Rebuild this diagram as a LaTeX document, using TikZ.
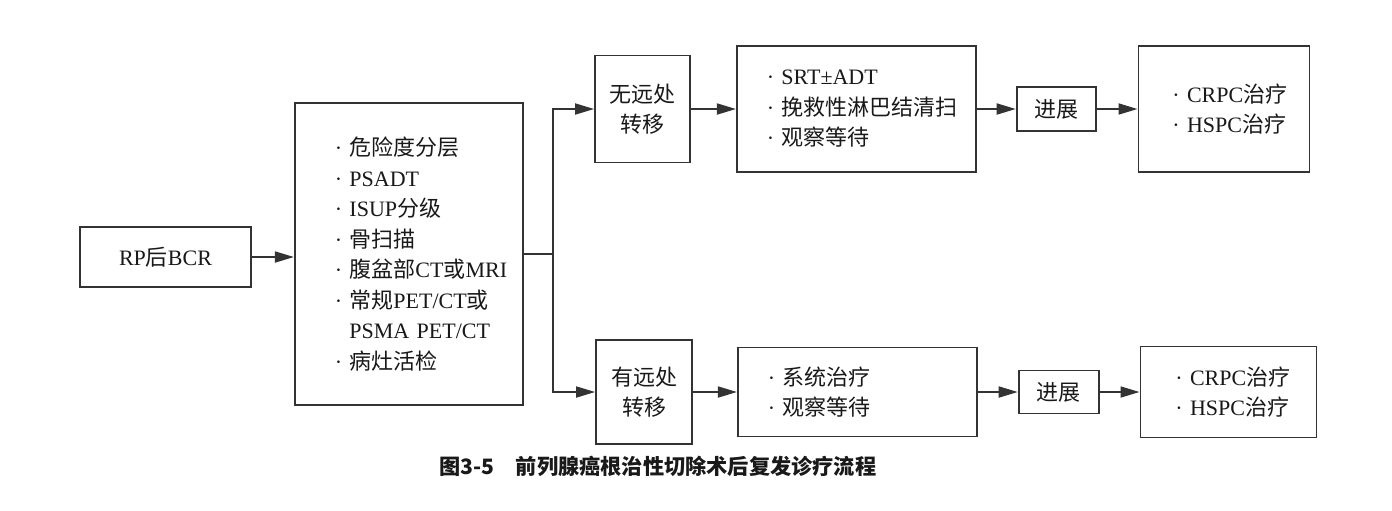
\documentclass[tikz,border=0pt]{standalone}
\usepackage{fontspec}
\setmainfont{Liberation Serif}
\newfontfamily\cjkfont{Noto Sans CJK SC}
\newfontfamily\capfont{Noto Sans CJK SC}
\usetikzlibrary{positioning,arrows.meta}
\colorlet{lineGray}{black!80}
\newcommand{\cjk}[1]{{\cjkfont #1}}

\begin{document}
\begin{tikzpicture}[x=0.5pt, y=-0.5pt, every node/.style={font=\fontsize{11pt}{15.25pt}\selectfont, align=center, text=black!90},
        box/.style={draw=lineGray, line width=0.9pt, inner sep=2pt},
        arr/.style={-{Triangle[length=9.5pt,width=5.5pt]}, draw=lineGray, line width=0.9pt}]
        \path[use as bounding box, fill=white] (0,0) rectangle (1392,510);
        % left part
        \node[box, minimum width=85.5pt, minimum height=30pt] (bcr) at (165.5,257) {RP\cjk{后}BCR};
        \node[box, minimum width=114pt, minimum height=151pt, text width=74pt, align=left, right=21pt of bcr, yshift=1.5pt] (risk)
            {·~\cjk{危险度分层}\\·~PSADT\\·~ISUP\cjk{分级}\\·~\cjk{骨扫描}\\·~\cjk{腹盆部}CT\cjk{或}MRI\\·~\cjk{常规}PET/CT\cjk{或}\\\hphantom{·~}PSMA~PET/CT\\·~\cjk{病灶活检}};
        % upper row
        \node[box, minimum width=47.5pt, minimum height=53.5pt] (nometa) at (642.5,109) {\cjk{无远处}\\\cjk{转移}};
        \node[box, minimum width=119.5pt, minimum height=63pt, text width=89.5pt, align=left, right=22.5pt of nometa] (salvage)
            {·~SRT±ADT\\·~\cjk{挽救性淋巴结清扫}\\·~\cjk{观察等待}};
        \node[box, minimum width=39.5pt, minimum height=22pt, right=19.5pt of salvage] (prog1) {\cjk{进展}};
        \node[box, minimum width=85.5pt, minimum height=63pt, text width=51.5pt, align=left, right=20.5pt of prog1] (treat1)
            {·~CRPC\cjk{治疗}\\·~HSPC\cjk{治疗}};
        % lower row
        \node[box, minimum width=48pt, minimum height=52pt] (meta) at (644,392) {\cjk{有远处}\\\cjk{转移}};
        \node[box, minimum width=119.5pt, minimum height=44.5pt, text width=89.5pt, align=left, right=22pt of meta] (system)
            {·~\cjk{系统治疗}\\·~\cjk{观察等待}};
        \node[box, minimum width=40pt, minimum height=21.5pt, right=20pt of system] (prog2) {\cjk{进展}};
        \node[box, minimum width=88pt, minimum height=45.5pt, text width=53pt, align=left, right=20pt of prog2] (treat2)
            {·~CRPC\cjk{治疗}\\·~HSPC\cjk{治疗}};
        % caption
        \node[font=\capfont\bfseries\fontsize{10.6pt}{12pt}\selectfont] (caption) at (658,466)
            {图3-5\hspace{1em}前列腺癌根治性切除术后复发诊疗流程};

        \draw[arr] (bcr.east) -- (bcr.east -| risk.west);
        \draw[arr] (risk.east) -- ++(14.5pt,0) |- (nometa.west);
        \draw[arr] (risk.east) -- ++(14.5pt,0) |- (meta.west);
        \draw[arr] (nometa.east) -- (salvage.west);
        \draw[arr] (salvage.east) -- (prog1.west);
        \draw[arr] (prog1.east) -- (treat1.west);
        \draw[arr] (meta.east) -- (system.west);
        \draw[arr] (system.east) -- (prog2.west);
        \draw[arr] (prog2.east) -- (treat2.west);
    \end{tikzpicture}
\end{document}
